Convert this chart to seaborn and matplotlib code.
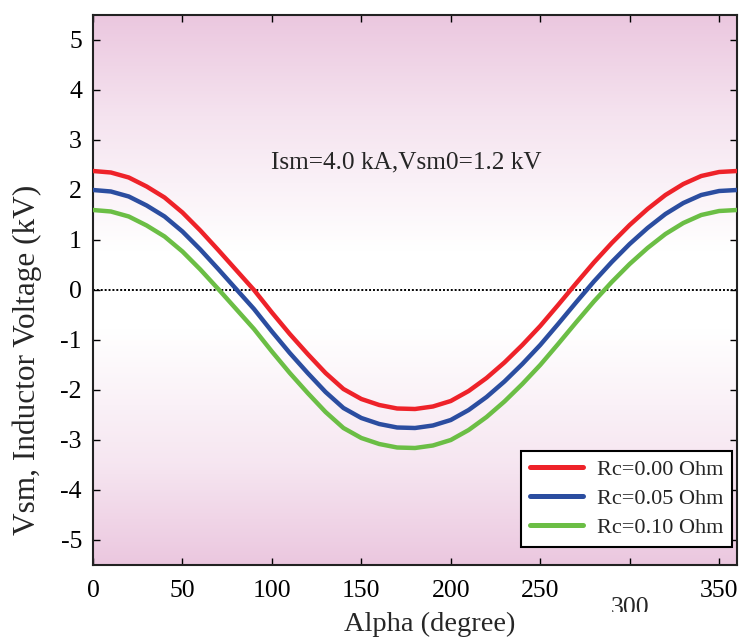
import numpy as np
import pandas as pd
import matplotlib
matplotlib.use("Agg")
import matplotlib.pyplot as plt
import seaborn as sns
from matplotlib.transforms import Bbox, TransformedBbox

# ---- data ----
alpha = [0, 10, 20, 30, 40, 50, 60, 70, 80, 90, 100, 110, 120, 130, 140, 150, 160, 170,
         180, 190, 200, 210, 220, 230, 240, 250, 260, 270, 280, 290, 300, 310, 320, 330,
         340, 350, 360]
v_rc000 = [2.38, 2.35, 2.25, 2.07, 1.85, 1.55, 1.19, 0.80, 0.40, 0.00, -0.45, -0.88, -1.28,
           -1.66, -1.98, -2.18, -2.30, -2.37, -2.38, -2.33, -2.22, -2.02, -1.76, -1.45, -1.10,
           -0.72, -0.30, 0.13, 0.55, 0.94, 1.30, 1.62, 1.90, 2.12, 2.28, 2.36, 2.38]
v_rc005 = [2.00, 1.97, 1.87, 1.69, 1.47, 1.17, 0.81, 0.42, 0.02, -0.38, -0.83, -1.26, -1.66,
           -2.04, -2.36, -2.56, -2.68, -2.75, -2.76, -2.71, -2.60, -2.40, -2.14, -1.83, -1.48,
           -1.10, -0.68, -0.25, 0.17, 0.56, 0.92, 1.24, 1.52, 1.74, 1.90, 1.98, 2.00]
v_rc010 = [1.60, 1.57, 1.47, 1.29, 1.07, 0.77, 0.41, 0.02, -0.38, -0.78, -1.23, -1.66, -2.06,
           -2.44, -2.76, -2.96, -3.08, -3.15, -3.16, -3.11, -3.00, -2.80, -2.54, -2.23, -1.88,
           -1.50, -1.08, -0.65, -0.23, 0.16, 0.52, 0.84, 1.12, 1.34, 1.50, 1.58, 1.60]
series_names = ["Rc=0.00 Ohm", "Rc=0.05 Ohm", "Rc=0.10 Ohm"]
x_ticks = [0, 50, 100, 150, 200, 250, 300, 350]
y_ticks = [-5, -4, -3, -2, -1, 0, 1, 2, 3, 4, 5]
annotation = "Ism=4.0 kA,Vsm0=1.2 kV"

df = pd.DataFrame({
    "alpha": alpha * 3,
    "v": v_rc000 + v_rc005 + v_rc010,
    "series": [series_names[0]] * len(alpha) + [series_names[1]] * len(alpha)
              + [series_names[2]] * len(alpha),
})

sns.set_style("ticks")
plt.rcParams["font.family"] = ["Liberation Serif", "DejaVu Serif"]

fig = plt.figure(figsize=(7.40, 6.37), dpi=100)
ax = fig.add_axes([93 / 740, 72 / 637, 644 / 740, 550 / 637])

# gradient background
xlim = (0, 360)
ylim = (-5.5, 5.5)
pink = np.array([235, 199, 223]) / 255.0
white = np.array([1.0, 1.0, 1.0])
yy = np.linspace(ylim[0], ylim[1], 400)
stops_y = [-5.5, -3.5, -0.8, 0.8, 3.5, 5.5]
stops_t = [1.0, 0.45, 0.0, 0.0, 0.5, 1.0]
t = np.interp(yy, stops_y, stops_t)
img = (white[None, :] * (1 - t[:, None]) + pink[None, :] * t[:, None])[:, None, :]
ax.imshow(img, extent=[xlim[0], xlim[1], ylim[0], ylim[1]], origin="lower",
          aspect="auto", zorder=0, interpolation="bilinear")

palette = {series_names[0]: "#EE2229", series_names[1]: "#2B4DA0", series_names[2]: "#6BBE45"}
sns.lineplot(data=df, x="alpha", y="v", hue="series", palette=palette, ax=ax,
             linewidth=3.2, zorder=3, legend=True)

ax.axhline(0, color="black", linestyle=(0, (1, 1)), linewidth=1.4, zorder=2)

ax.set_xlim(*xlim)
ax.set_ylim(*ylim)
ax.set_xticks(x_ticks)
ax.set_xticklabels([str(v) if v != 300 else "" for v in x_ticks])
ax.set_yticks(y_ticks)
ax.set_yticklabels([str(v) for v in y_ticks])
ax.tick_params(direction="in", length=5, width=1.0, top=True, right=True,
               labelsize=18.5, colors="black")
ax.tick_params(axis="x", pad=11)
ax.tick_params(axis="y", pad=8)
for s in ax.spines.values():
    s.set_visible(True)
    s.set_linewidth(1.5)
    s.set_color("#222222")

ax.set_xlabel("Alpha (degree)", fontsize=20.5)
ax.set_ylabel("Vsm, Inductor Voltage (kV)", fontsize=22.5)
ax.xaxis.set_label_coords(0.523, -0.086)
ax.xaxis.label.set_va("top")
ax.yaxis.set_label_coords(-0.102, 0.373)
ax.yaxis.label.set_va("center")

ax.text(175, 2.55, annotation, ha="center", va="center", fontsize=18.2, zorder=4)

# displaced, clipped "300" tick label as in the reference
lbl = fig.text(630 / 740, 1 - 597 / 637, "300", ha="center", va="top", fontsize=18.5,
               clip_on=True)
lbl.set_clip_box(TransformedBbox(Bbox([[0, 1 - 612 / 637], [1, 1]]), fig.transFigure))

leg = ax.legend(loc="lower right", fontsize=16, frameon=True, fancybox=False,
                edgecolor="black", framealpha=1.0, borderpad=0.4, handlelength=2.4,
                handletextpad=0.6, labelspacing=0.38, bbox_to_anchor=(0.992, 0.033),
                borderaxespad=0.0)
leg.set_title(None)
leg.get_frame().set_linewidth(1.5)
for h in leg.get_lines():
    h.set_linewidth(3.6)

fig.savefig("out.png", dpi=100)
